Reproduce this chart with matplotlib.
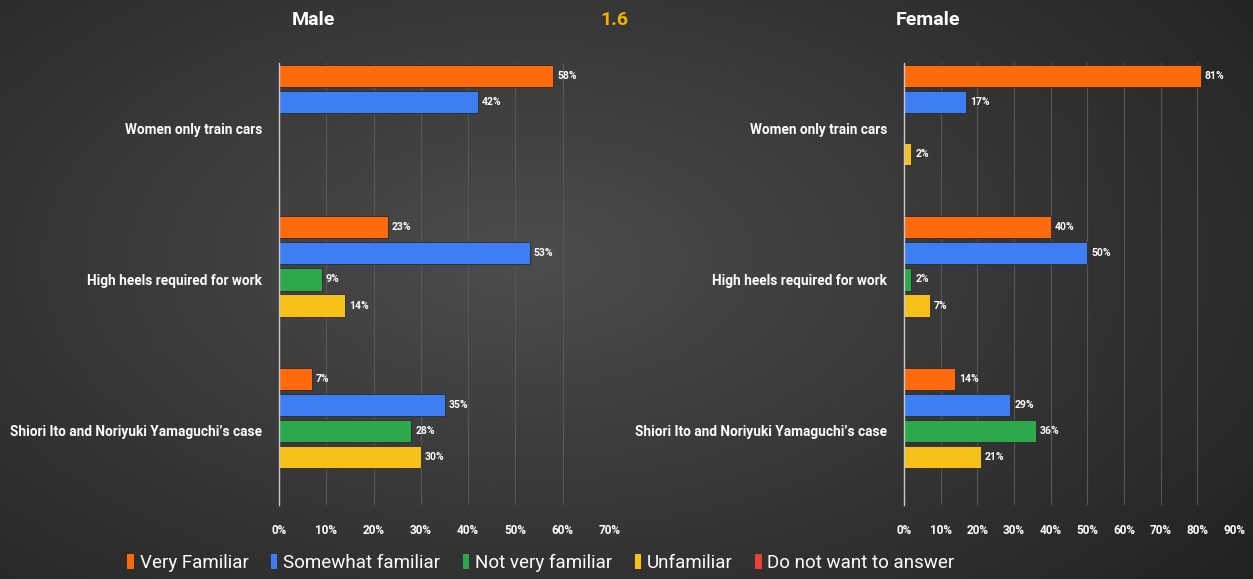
import numpy as np
import matplotlib.pyplot as plt
from matplotlib.patches import Patch

plt.rcParams['font.family'] = ['Roboto', 'DejaVu Sans']

# ── data ──────────────────────────────────────────────────────────────────────
topics = ["Women only train cars", "High heels required for work",
          "Shiori Ito and Noriyuki Yamaguchi\u2019s case"]
series = ["Very Familiar", "Somewhat familiar", "Not very familiar",
          "Unfamiliar", "Do not want to answer"]
colors = ["#FF6A0D", "#3D7EF2", "#2EA84C", "#F7C11A", "#E8403A"]

male_very = [58, 23, 7]
male_somewhat = [42, 53, 35]
male_not_very = [0, 9, 28]
male_unfamiliar = [0, 14, 30]
male_no_answer = [0, 0, 0]

female_very = [81, 40, 14]
female_somewhat = [17, 50, 29]
female_not_very = [0, 2, 36]
female_unfamiliar = [2, 7, 21]
female_no_answer = [0, 0, 0]

male = [male_very, male_somewhat, male_not_very, male_unfamiliar, male_no_answer]
female = [female_very, female_somewhat, female_not_very, female_unfamiliar, female_no_answer]

# ── figure + gradient background ─────────────────────────────────────────────
fig = plt.figure(figsize=(12.53, 5.79), dpi=100)
bg = fig.add_axes([0, 0, 1, 1], zorder=-10)
yy, xx = np.mgrid[0:1:300j, 0:1:600j]
d = np.sqrt(((xx - 0.42) / 0.75) ** 2 + ((yy - 0.45) / 0.9) ** 2)
shade = np.clip(0.30 - 0.17 * d, 0.12, 0.30)
bg.imshow(np.dstack([shade] * 3), aspect="auto", extent=[0, 1, 0, 1])
bg.axis("off")

slot = 26 / 151
bar_h = 0.146
offsets = (np.arange(5) - 2) * slot
y = np.arange(len(topics))
txt = "white"


def panel(rect, data, xmax):
    ax = fig.add_axes(rect)
    ax.set_facecolor("none")
    for k, vals in enumerate(data):
        ax.barh(y + offsets[k], vals, height=bar_h, color=colors[k],
                edgecolor="#2a2a2a", linewidth=0.6, zorder=3)
        for yi, v in zip(y, vals):
            if v > 0:
                ax.text(v + xmax * 0.012, yi + offsets[k], f"{v}%", color=txt,
                        fontsize=7.5, fontweight="bold", va="center", ha="left", zorder=4)
    ax.set_xlim(0, xmax)
    ax.set_ylim(2.49, -0.43)
    ax.set_xticks(np.arange(0, xmax + 1, 10))
    ax.set_xticklabels([f"{t}%" for t in range(0, xmax + 1, 10)],
                       color=txt, fontsize=8.5, fontweight="bold")
    ax.set_yticks(y)
    ax.set_yticklabels(topics, color=txt, fontsize=9.8, fontweight="bold")
    ax.tick_params(axis="y", length=0, pad=12)
    ax.tick_params(axis="x", length=0, pad=14)
    ax.grid(axis="x", color="#575757", linewidth=0.8, zorder=0)
    for s in ["top", "right", "bottom"]:
        ax.spines[s].set_visible(False)
    ax.spines["left"].set_color("#c8c8c8")
    ax.spines["left"].set_linewidth(1.0)
    ax.spines["left"].set_zorder(5)
    return ax


panel([279 / 1253, 1 - 505 / 579, (610 - 279) / 1253, 442 / 579], male, 70)
panel([904 / 1253, 1 - 505 / 579, (1234 - 904) / 1253, 442 / 579], female, 90)

fig.text(313 / 1253, 1 - 20 / 579, "Male", color=txt, fontsize=14,
         fontweight="bold", ha="center", va="center")
fig.text(928 / 1253, 1 - 20 / 579, "Female", color=txt, fontsize=14,
         fontweight="bold", ha="center", va="center")
fig.text(614 / 1253, 1 - 20 / 579, "1.6", color="#F2B300", fontsize=14,
         fontweight="bold", ha="center", va="center")

handles = [Patch(facecolor=c, edgecolor="none") for c in colors]
fig.legend(handles, series, loc="center", bbox_to_anchor=(541 / 1253, 1 - 563 / 579),
           ncol=5, frameon=False, fontsize=13.5, labelcolor=txt,
           handlelength=0.35, handleheight=0.8, handletextpad=0.3, columnspacing=1.2)

fig.savefig("out.png", dpi=100)
